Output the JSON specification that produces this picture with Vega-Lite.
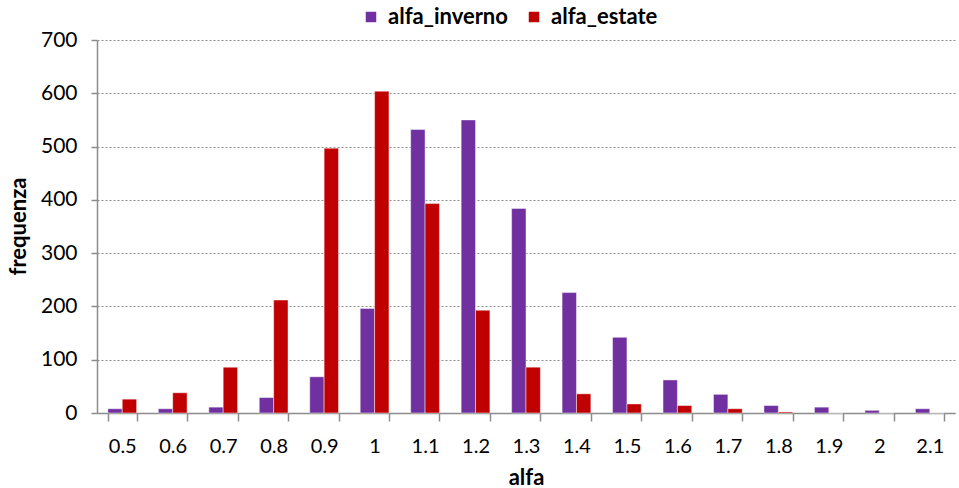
{
  "$schema": "https://vega.github.io/schema/vega-lite/v6.json",
  "width": 858,
  "height": 373,
  "autosize": {"type": "none"},
  "padding": {"left": 97, "top": 40, "right": 4, "bottom": 75},
  "background": "white",
  "config": {
    "font": "Lato",
    "view": {"stroke": null}
  },
  "data": {
    "values": [
      {"alfa": "0.5", "serie": "alfa_inverno", "frequenza": 8},
      {"alfa": "0.5", "serie": "alfa_estate", "frequenza": 26},
      {"alfa": "0.6", "serie": "alfa_inverno", "frequenza": 8},
      {"alfa": "0.6", "serie": "alfa_estate", "frequenza": 38},
      {"alfa": "0.7", "serie": "alfa_inverno", "frequenza": 11},
      {"alfa": "0.7", "serie": "alfa_estate", "frequenza": 86},
      {"alfa": "0.8", "serie": "alfa_inverno", "frequenza": 29},
      {"alfa": "0.8", "serie": "alfa_estate", "frequenza": 212},
      {"alfa": "0.9", "serie": "alfa_inverno", "frequenza": 68},
      {"alfa": "0.9", "serie": "alfa_estate", "frequenza": 497},
      {"alfa": "1", "serie": "alfa_inverno", "frequenza": 196},
      {"alfa": "1", "serie": "alfa_estate", "frequenza": 604},
      {"alfa": "1.1", "serie": "alfa_inverno", "frequenza": 532},
      {"alfa": "1.1", "serie": "alfa_estate", "frequenza": 393},
      {"alfa": "1.2", "serie": "alfa_inverno", "frequenza": 550},
      {"alfa": "1.2", "serie": "alfa_estate", "frequenza": 193},
      {"alfa": "1.3", "serie": "alfa_inverno", "frequenza": 384},
      {"alfa": "1.3", "serie": "alfa_estate", "frequenza": 86},
      {"alfa": "1.4", "serie": "alfa_inverno", "frequenza": 226},
      {"alfa": "1.4", "serie": "alfa_estate", "frequenza": 36},
      {"alfa": "1.5", "serie": "alfa_inverno", "frequenza": 142},
      {"alfa": "1.5", "serie": "alfa_estate", "frequenza": 17},
      {"alfa": "1.6", "serie": "alfa_inverno", "frequenza": 62},
      {"alfa": "1.6", "serie": "alfa_estate", "frequenza": 14},
      {"alfa": "1.7", "serie": "alfa_inverno", "frequenza": 35},
      {"alfa": "1.7", "serie": "alfa_estate", "frequenza": 8},
      {"alfa": "1.8", "serie": "alfa_inverno", "frequenza": 14},
      {"alfa": "1.8", "serie": "alfa_estate", "frequenza": 2},
      {"alfa": "1.9", "serie": "alfa_inverno", "frequenza": 11},
      {"alfa": "1.9", "serie": "alfa_estate", "frequenza": 0},
      {"alfa": "2", "serie": "alfa_inverno", "frequenza": 5},
      {"alfa": "2", "serie": "alfa_estate", "frequenza": 0},
      {"alfa": "2.1", "serie": "alfa_inverno", "frequenza": 8},
      {"alfa": "2.1", "serie": "alfa_estate", "frequenza": 0}
    ]
  },
  "mark": {"type": "bar", "stroke": "white", "strokeOpacity": 0.45, "strokeWidth": 1},
  "encoding": {
    "x": {
      "field": "alfa",
      "type": "ordinal",
      "sort": null,
      "scale": {"paddingInner": 0.43, "paddingOuter": 0.215},
      "axis": {
        "title": "alfa",
        "titleFontSize": 22,
        "titleFontWeight": "bold",
        "titleColor": "black",
        "titleY": 64,
        "titleBaseline": "middle",
        "labelAngle": 0,
        "labelFontSize": 20,
        "labelColor": "black",
        "labelPadding": 15,
        "tickBand": "extent",
        "tickSize": 8,
        "tickColor": "#8c8c8c",
        "tickWidth": 1.5,
        "domainColor": "#8c8c8c",
        "domainWidth": 1.5,
        "grid": false
      }
    },
    "xOffset": {
      "field": "serie",
      "type": "nominal",
      "scale": {"domain": ["alfa_inverno", "alfa_estate"], "paddingInner": 0, "paddingOuter": 0}
    },
    "y": {
      "field": "frequenza",
      "type": "quantitative",
      "scale": {"domain": [0, 700], "nice": false},
      "axis": {
        "title": "frequenza",
        "titleFontSize": 22,
        "titleFontWeight": "bold",
        "titleColor": "black",
        "titleX": -79,
        "titleY": 186,
        "titleAngle": -90,
        "titleAlign": "center",
        "titleBaseline": "middle",
        "values": [0, 100, 200, 300, 400, 500, 600, 700],
        "labelFontSize": 21,
        "labelColor": "black",
        "labelPadding": 14,
        "tickSize": 6,
        "tickColor": "#8c8c8c",
        "tickWidth": 1.5,
        "domainColor": "#8c8c8c",
        "domainWidth": 1.5,
        "grid": true,
        "gridColor": "#8c8c8c",
        "gridDash": [2, 2],
        "gridWidth": 1
      }
    },
    "color": {
      "field": "serie",
      "type": "nominal",
      "scale": {"domain": ["alfa_inverno", "alfa_estate"], "range": ["#7030A0", "#C00000"]},
      "legend": {
        "title": null,
        "orient": "none",
        "direction": "horizontal",
        "legendX": 263,
        "legendY": -34,
        "symbolType": "square",
        "symbolSize": 110,
        "symbolStrokeWidth": 0,
        "labelFontSize": 22,
        "labelFontWeight": "bold",
        "labelColor": "black",
        "columnPadding": 15,
        "labelOffset": 6
      }
    }
  }
}
